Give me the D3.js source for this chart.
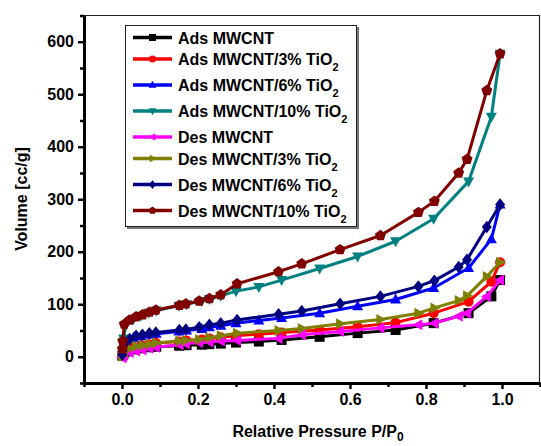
<!DOCTYPE html>
<html>
<head>
<meta charset="utf-8">
<script src="https://cdn.jsdelivr.net/npm/d3@7"></script>
<style>
  body { margin: 0; background: #fff; }
  svg text { font-family: Arial, "Liberation Sans", sans-serif; font-weight: bold; }
</style>
</head>
<body>
<script>
// relative pressure points (adsorption and desorption branches)
var pAds = [0.001, 0.004, 0.01, 0.03, 0.05, 0.07, 0.09, 0.15, 0.17, 0.21, 0.23, 0.26, 0.30, 0.36, 0.42, 0.52, 0.62, 0.72, 0.82, 0.912, 0.972, 0.995];
var pDes = [0.995, 0.96, 0.908, 0.886, 0.822, 0.78, 0.68, 0.574, 0.473, 0.412, 0.303, 0.26, 0.23, 0.203, 0.168, 0.151, 0.089, 0.072, 0.054, 0.037, 0.02, 0.006, 0.002, 0.001];

// volumes [cc/g]
var adsMWCNT   = [2, 6, 10, 14, 16, 18, 19, 21, 22, 23, 24, 25, 27, 29, 32, 38, 45, 51, 64, 83, 115, 146];
var ads3TiO2   = [2, 8, 14, 19, 22, 24, 26, 29, 31, 33, 35, 37, 40, 43, 46, 51, 57, 65, 83, 105, 143, 180];
var ads6TiO2   = [4, 15, 26, 36, 39, 42, 44, 48, 50, 53, 56, 59, 64, 69, 74, 83, 96, 109, 131, 169, 224, 290];
var ads10TiO2  = [10, 35, 60, 72, 78, 84, 88, 97, 100, 106, 110, 116, 125, 133, 146, 168, 191, 220, 263, 334, 457, 577];
var desMWCNT   = [146, 115, 83, 77, 64, 61, 55, 48, 42, 35, 31, 30, 28, 27, 25, 23, 18, 16, 13, 11, 8, 4, 0, -2];
var des3TiO2   = [180, 153, 116, 107, 93, 83, 71, 63, 54, 50, 45, 40, 36, 33, 31, 30, 26, 24, 22, 20, 16, 10, 4, 1];
var des6TiO2   = [290, 247, 185, 171, 145, 134, 115, 101, 87, 81, 70, 64, 61, 56, 52, 51, 46, 45, 42, 40, 34, 25, 12, 4];
var des10TiO2  = [577, 507, 376, 350, 296, 275, 231, 204, 177, 162, 139, 118, 111, 106, 101, 98, 89, 85, 80, 76, 70, 62, 30, 15];

var seriesNames = ["Ads MWCNT", "Ads MWCNT/3% TiO", "Ads MWCNT/6% TiO", "Ads MWCNT/10% TiO",
                   "Des MWCNT", "Des MWCNT/3% TiO", "Des MWCNT/6% TiO", "Des MWCNT/10% TiO"];
var seriesSub = ["", "2", "2", "2", "", "2", "2", "2"];
var seriesColors = ["#000000", "#ff0000", "#0000ff", "#008080", "#ff00ff", "#808000", "#000080", "#800000"];
var seriesShapes = ["square", "circle", "up", "down", "left", "right", "diamond", "pentagon"];

var xTicks = [0.0, 0.2, 0.4, 0.6, 0.8, 1.0];
var yTicks = [0, 100, 200, 300, 400, 500, 600];

window.onload = function(){
    var w = 541, h = 446;
    var svg = d3.select("body").append("svg")
        .attr("width", w)
        .attr("height", h);

    var x = d3.scaleLinear().domain([-0.1, 1.1]).range([84, 540]);
    var y = d3.scaleLinear().domain([-50, 650]).range([383, 15.5]);

    var series = [
        {p: pAds, v: adsMWCNT}, {p: pAds, v: ads3TiO2}, {p: pAds, v: ads6TiO2}, {p: pAds, v: ads10TiO2},
        {p: pDes, v: desMWCNT}, {p: pDes, v: des3TiO2}, {p: pDes, v: des6TiO2}, {p: pDes, v: des10TiO2}
    ].map(function(s, i){
        return {
            name: seriesNames[i], sub: seriesSub[i], color: seriesColors[i], shape: seriesShapes[i],
            points: s.p.map(function(p, j){ return [p, s.v[j]]; })
        };
    });

    // marker path for each shape, r = half size
    function marker(shape, r){
        var pts;
        if (shape == "circle") {
            return d3.symbol().type(d3.symbolCircle).size(Math.PI * r * r)();
        }
        if (shape == "square") pts = [[-r,-r],[r,-r],[r,r],[-r,r]];
        else if (shape == "diamond") pts = [[0,-r*1.25],[r,0],[0,r*1.25],[-r,0]];
        else if (shape == "up") pts = [[0,-r*1.2],[r*1.1,r*0.8],[-r*1.1,r*0.8]];
        else if (shape == "down") pts = [[0,r*1.2],[r*1.1,-r*0.8],[-r*1.1,-r*0.8]];
        else if (shape == "left") pts = [[-r*1.2,0],[r*0.8,-r*1.1],[r*0.8,r*1.1]];
        else if (shape == "right") pts = [[r*1.2,0],[-r*0.8,-r*1.1],[-r*0.8,r*1.1]];
        else {
            pts = d3.range(5).map(function(k){
                var a = -Math.PI/2 + k * 2 * Math.PI / 5;
                return [r * 1.15 * Math.cos(a), r * 1.15 * Math.sin(a)];
            });
        }
        return "M" + pts.map(function(d){ return d.join(","); }).join("L") + "Z";
    }

    // frame (top and right thin)
    svg.append("path")
        .attr("d", "M84,15.5H539.5V383")
        .style("fill", "none")
        .style("stroke", "#222")
        .style("stroke-width", 1.2);

    // axes
    var xAxis = svg.append("g")
        .attr("transform", "translate(0,383)")
        .call(d3.axisBottom(x).tickValues(xTicks).tickSize(6).tickSizeOuter(0).tickFormat(d3.format(".1f")));
    svg.append("g")
        .attr("transform", "translate(0,383)")
        .call(d3.axisBottom(x).tickValues([-0.1, 0.1, 0.3, 0.5, 0.7, 0.9, 1.1]).tickSize(4).tickSizeOuter(0).tickFormat(""))
        .select(".domain").remove();

    var yAxis = svg.append("g")
        .attr("transform", "translate(84,0)")
        .call(d3.axisLeft(y).tickValues(yTicks).tickSize(6).tickSizeOuter(0));
    svg.append("g")
        .attr("transform", "translate(84,0)")
        .call(d3.axisLeft(y).tickValues([-50, 50, 150, 250, 350, 450, 550, 650]).tickSize(4).tickSizeOuter(0).tickFormat(""))
        .select(".domain").remove();

    svg.selectAll(".domain").style("stroke-width", 3).style("stroke", "#000");
    svg.selectAll(".tick line").style("stroke-width", 2.5).style("stroke", "#000");
    xAxis.selectAll(".tick text")
        .style("font-size", "16px").attr("y", 11).attr("dy", "0.71em");
    yAxis.selectAll(".tick text")
        .style("font-size", "16px").attr("x", -10);

    // axis titles
    svg.append("text")
        .attr("transform", "translate(27,199) rotate(-90)")
        .attr("text-anchor", "middle")
        .style("font-size", "16px")
        .text("Volume [cc/g]");
    var xt = svg.append("text")
        .attr("x", 318)
        .attr("y", 437)
        .attr("text-anchor", "middle")
        .style("font-size", "16px")
        .text("Relative Pressure P/P");
    xt.append("tspan").attr("dy", 4).style("font-size", "12px").text("0");

    // series lines and markers
    var line = d3.line()
        .x(function(d){ return x(d[0]); })
        .y(function(d){ return y(d[1]); });

    series.forEach(function(s){
        var g = svg.append("g");
        g.append("path")
            .datum(s.points)
            .attr("d", line)
            .style("fill", "none")
            .style("stroke", s.color)
            .style("stroke-width", 3)
            .style("stroke-linejoin", "round");
        g.selectAll(".pt")
            .data(s.points)
            .enter()
            .append("path")
            .attr("class", "pt")
            .attr("transform", function(d){ return "translate(" + x(d[0]) + "," + y(d[1]) + ")"; })
            .attr("d", marker(s.shape, 5))
            .style("fill", s.color);
    });

    // legend
    var lg = svg.append("g");
    lg.append("rect")
        .attr("x", 127).attr("y", 27).attr("width", 232).attr("height", 202)
        .style("fill", "#777");
    lg.append("rect")
        .attr("x", 125.5).attr("y", 25.5).attr("width", 231).attr("height", 201)
        .style("fill", "#fff")
        .style("stroke", "#222")
        .style("stroke-width", 1);

    var rowY = 37.5;
    series.forEach(function(s, i){
        var ly = rowY;
        lg.append("line")
            .attr("x1", 133).attr("x2", 172)
            .attr("y1", ly).attr("y2", ly)
            .style("stroke", s.color)
            .style("stroke-width", 3.5);
        lg.append("path")
            .attr("transform", "translate(152.5," + ly + ")")
            .attr("d", marker(s.shape, 3.5))
            .style("fill", s.color);
        var t = lg.append("text")
            .attr("x", 178)
            .attr("y", ly + 6)
            .style("font-size", "16px")
            .text(s.name);
        if (s.sub) {
            t.append("tspan").attr("dy", 6).style("font-size", "11px").text(s.sub);
        }
        rowY += s.sub ? 26 : 21.5;
    });
};
</script>
</body>
</html>
